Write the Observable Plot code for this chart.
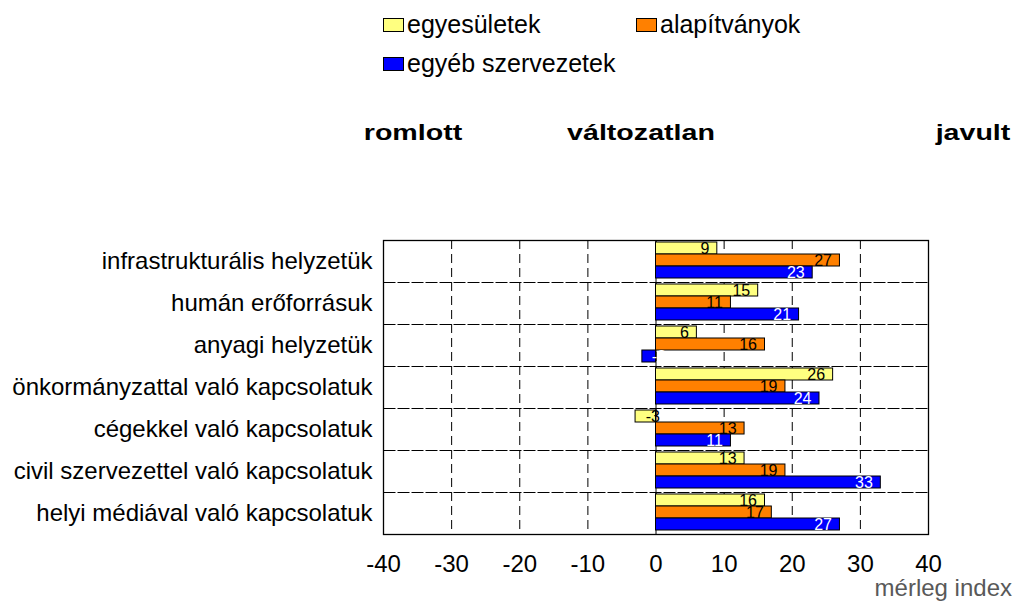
<!DOCTYPE html>
<html>
<head>
<meta charset="utf-8">
<script src="https://cdn.jsdelivr.net/npm/d3@7"></script>
<script src="https://cdn.jsdelivr.net/npm/@observablehq/plot@0.6"></script>
<style>
  body { margin: 0; background: #fff; }
  #wrap { position: relative; width: 1014px; height: 601px; overflow: hidden;
          font-family: "Liberation Sans", Arial, sans-serif; color: #000; }
  .leg { position: absolute; display: flex; align-items: center; font-size: 25px; line-height: 1; white-space: nowrap; }
  .sw { display: inline-block; width: 19px; height: 12px; border: 1px solid #000; margin-right: 3px; }
  .hdr { position: absolute; font-weight: bold; font-size: 22px; line-height: 1; white-space: nowrap;
         transform: translateX(-50%) scaleX(1.3); }
  #chart { position: absolute; left: 0; top: 200px; }
  #cap { position: absolute; right: 2px; top: 576px; font-size: 24px; line-height: 1; color: #595959; }
</style>
</head>
<body>
<div id="wrap">
  <div id="legend"></div>
  <div id="header"></div>
  <div id="chart"></div>
  <div id="cap">mérleg index</div>
</div>
<script>
// ---- data ----
const categories = [
  "infrastrukturális helyzetük",
  "humán erőforrásuk",
  "anyagi helyzetük",
  "önkormányzattal való kapcsolatuk",
  "cégekkel való kapcsolatuk",
  "civil szervezettel való kapcsolatuk",
  "helyi médiával való kapcsolatuk"
];
const series = ["egyesületek", "alapítványok", "egyéb szervezetek"];
const egyesuletek = [9, 15, 6, 26, -3, 13, 16];
const alapitvanyok = [27, 11, 16, 19, 13, 19, 17];
const egyebSzervezetek = [23, 21, -2, 24, 11, 33, 27];
const xTicks = [-40, -30, -20, -10, 0, 10, 20, 30, 40];
const headerWords = ["romlott", "változatlan", "javult"];
const colors = ["#FFFF80", "#FF8000", "#0000FF"];

const seriesValues = [egyesuletek, alapitvanyok, egyebSzervezetek];
const data = [];
categories.forEach((c, i) => {
  series.forEach((s, j) => data.push({category: c, series: s, value: seriesValues[j][i]}));
});

// ---- legend (HTML) ----
const legendPos = [[383, 12], [636, 12], [383, 51]];
const legend = document.getElementById("legend");
series.forEach((s, j) => {
  const d = document.createElement("div");
  d.className = "leg";
  d.style.left = legendPos[j][0] + "px";
  d.style.top = legendPos[j][1] + "px";
  const sw = document.createElement("span");
  sw.className = "sw";
  sw.style.background = colors[j];
  d.appendChild(sw);
  d.appendChild(document.createTextNode(s));
  legend.appendChild(d);
});

// ---- header words ----
const headerX = [413, 641, 973];
const header = document.getElementById("header");
headerWords.forEach((w, k) => {
  const d = document.createElement("div");
  d.className = "hdr";
  d.style.left = headerX[k] + "px";
  d.style.top = "122px";
  d.textContent = w;
  header.appendChild(d);
});

// ---- chart ----
const dash = "9,5";
const fmt = d => String(d);
const chart = Plot.plot({
  width: 1014,
  height: 380,
  marginTop: 38,
  marginBottom: 45,
  marginLeft: 383,
  marginRight: 86,
  style: {fontFamily: "'Liberation Sans', Arial, sans-serif", fontSize: "24px", color: "#000", background: "#fff"},
  x: {domain: [-40, 40], ticks: xTicks, tickFormat: fmt, tickSize: 0, tickPadding: 20, label: null},
  fy: {domain: categories, padding: 0, tickSize: 0, tickPadding: 11, label: null},
  y: {domain: series, paddingInner: 0, paddingOuter: 0.2, align: 0.4, axis: null},
  color: {domain: series, range: colors},
  marks: [
    Plot.gridX({ticks: xTicks, stroke: "#000", strokeOpacity: 1, strokeDasharray: dash}),
    Plot.frame({stroke: "#000", strokeDasharray: dash}),
    Plot.ruleX([0], {stroke: "#000"}),
    Plot.barX(data, {fy: "category", y: "series", x: "value", fill: "series", stroke: "#000", strokeWidth: 1}),
    Plot.text(data.filter(d => d.value >= 0 && d.series !== series[2]),
      {fy: "category", y: "series", x: "value", text: d => fmt(d.value), textAnchor: "end", dx: -8, fill: "#000", fontSize: 16}),
    Plot.text(data.filter(d => d.value >= 0 && d.series === series[2]),
      {fy: "category", y: "series", x: "value", text: d => fmt(d.value), textAnchor: "end", dx: -8, fill: "#fff", fontSize: 16}),
    Plot.text(data.filter(d => d.value < 0 && d.series !== series[2]),
      {fy: "category", y: "series", x: 0, text: d => fmt(d.value), textAnchor: "end", dx: 4, fill: "#000", fontSize: 16}),
    Plot.text(data.filter(d => d.value < 0 && d.series === series[2]),
      {fy: "category", y: "series", x: 0, text: d => fmt(d.value), textAnchor: "end", dx: 10, fill: "#fff", fontSize: 16}),
    Plot.frame({stroke: "#000", strokeWidth: 1.3, facet: "super"})
  ]
});
document.getElementById("chart").appendChild(chart);
</script>
</body>
</html>
